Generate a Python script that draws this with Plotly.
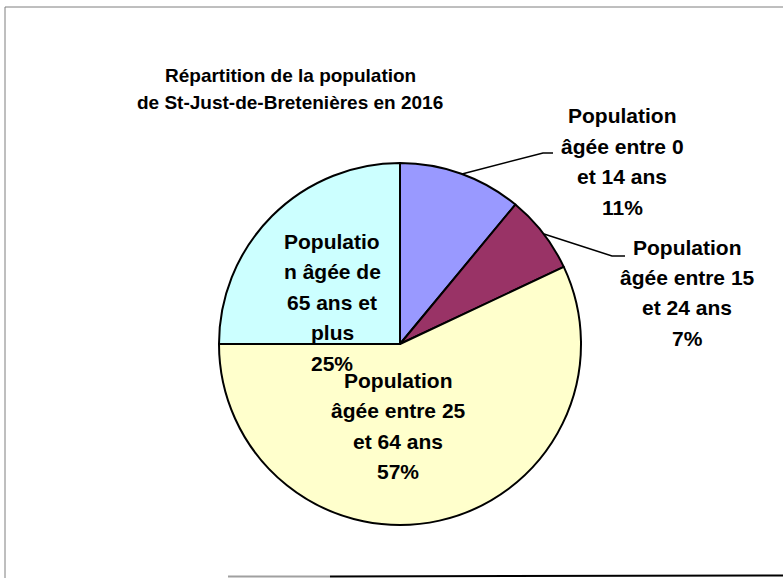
import plotly.graph_objects as go

W, H = 783, 578

# data
labels = [
    "Population âgée entre 0 et 14 ans",
    "Population âgée entre 15 et 24 ans",
    "Population âgée entre 25 et 64 ans",
    "Population âgée de 65 ans et plus",
]
shares = [11, 7, 57, 25]
colors = ["#9999FF", "#993366", "#FFFFCC", "#CCFFFF"]

# how each label wraps in the original chart
label_lines = [
    ["Population", "âgée entre 0", "et 14 ans"],
    ["Population", "âgée entre 15", "et 24 ans"],
    ["Population", "âgée entre 25", "et 64 ans"],
    ["Populatio", "n âgée de", "65 ans et", "plus"],
]

title_lines = ["Répartition de la population", "de St-Just-de-Bretenières en 2016"]

FONT = "Liberation Sans, Arial, sans-serif"


def px(x):
    return x / W


def py(y):
    return 1 - y / H


# pie centre and radius in pixels
cx, cy, r = 400, 344, 181

fig = go.Figure()

fig.add_trace(go.Pie(
    labels=labels,
    values=shares,
    marker=dict(colors=colors, line=dict(color="black", width=2)),
    sort=False,
    direction="clockwise",
    rotation=0,
    textinfo="none",
    hoverinfo="label+percent",
    showlegend=False,
    domain=dict(x=[px(cx - r), px(cx + r)], y=[py(cy + r), py(cy - r)]),
))

# label positions: centre x and y of the first line, pixels
label_pos = [(622, 116), (687, 247), (398, 380), (332, 241)]
line_gap = 30.5

annotations = []
for lines, share, (x, y0) in zip(label_lines, shares, label_pos):
    for i, line in enumerate(lines + [f"{share}%"]):
        annotations.append(dict(
            x=px(x), y=py(y0 + line_gap * i), xref="paper", yref="paper",
            text=f"<b>{line}</b>",
            showarrow=False,
            font=dict(family=FONT, size=21, color="black"),
            xanchor="center", yanchor="middle",
        ))

for i, line in enumerate(title_lines):
    annotations.append(dict(
        x=px(290), y=py(75 + 28 * i), xref="paper", yref="paper",
        text=f"<b>{line}</b>",
        showarrow=False,
        font=dict(family=FONT, size=19, color="black"),
        xanchor="center", yanchor="middle",
    ))

shapes = [
    # chart frame
    dict(type="rect", xref="paper", yref="paper",
         x0=px(5), x1=px(800), y0=py(600), y1=py(7),
         line=dict(color="#7f7f7f", width=1)),
    # bottom shadow
    dict(type="line", xref="paper", yref="paper",
         x0=px(228), x1=px(330), y0=py(576.5), y1=py(576.5),
         line=dict(color="#a0a0a0", width=2)),
    dict(type="line", xref="paper", yref="paper",
         x0=px(330), x1=px(783), y0=py(576.5), y1=py(575.5),
         line=dict(color="black", width=2)),
    # leader lines
    dict(type="path", xref="paper", yref="paper",
         path=f"M {px(462)},{py(174)} L {px(543)},{py(153)} L {px(553)},{py(153)}",
         line=dict(color="black", width=1.5)),
    dict(type="path", xref="paper", yref="paper",
         path=f"M {px(544)},{py(234)} L {px(612)},{py(256)} L {px(625)},{py(256)}",
         line=dict(color="black", width=1.5)),
]

fig.update_layout(
    width=W, height=H,
    margin=dict(l=0, r=0, t=0, b=0),
    paper_bgcolor="white",
    plot_bgcolor="white",
    annotations=annotations,
    shapes=shapes,
)

# drop the default page margin so the figure sits at the window corner
fig.write_html(
    "out.html",
    config={"displayModeBar": False},
    post_script="document.body.style.margin = '0';",
)
